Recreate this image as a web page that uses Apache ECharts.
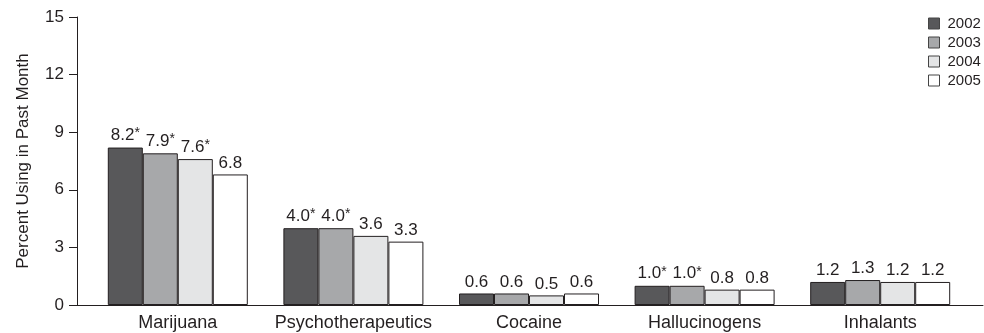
<!DOCTYPE html>
<html>
<head>
<meta charset="utf-8">
<script src="https://cdn.jsdelivr.net/npm/echarts@6/dist/echarts.min.js"></script>
<style>
html,body{margin:0;padding:0;background:#fff;}
#chart{width:984px;height:333px;}
</style>
</head>
<body>
<div id="chart"></div>
<script>
const categories = ['Marijuana', 'Psychotherapeutics', 'Cocaine', 'Hallucinogens', 'Inhalants'];
const years = ['2002', '2003', '2004', '2005'];
const v2002 = [8.2, 4.0, 0.6, 1.0, 1.2];
const v2003 = [7.9, 4.0, 0.6, 1.0, 1.3];
const v2004 = [7.6, 3.6, 0.5, 0.8, 1.2];
const v2005 = [6.8, 3.3, 0.6, 0.8, 1.2];
const sig2002 = [true, true, false, true, false];
const sig2003 = [true, true, false, true, false];
const sig2004 = [true, false, false, false, false];
const sig2005 = [false, false, false, false, false];
const yTicks = [0, 3, 6, 9, 12, 15];

const values = [v2002, v2003, v2004, v2005];
const sigs = [sig2002, sig2003, sig2004, sig2005];
const colors = ['#58585a', '#a7a8aa', '#e4e5e6', '#ffffff'];
const FONT = '"Liberation Sans", Arial, Helvetica, sans-serif';
const TXT = '#231f20';

const chart = echarts.init(document.getElementById('chart'), null, {renderer: 'canvas'});
chart.setOption({
  animation: false,
  backgroundColor: '#fff',
  textStyle: {fontFamily: FONT, color: TXT},
  legend: {
    orient: 'vertical',
    left: 928,
    top: 16,
    padding: 0,
    itemWidth: 11,
    itemHeight: 11,
    itemGap: 4,
    icon: 'rect',
    textStyle: {fontSize: 15, lineHeight: 15, color: TXT, fontFamily: FONT, padding: [0, 0, 0, 3]},
    data: years.map((y, i) => ({name: y, itemStyle: {borderColor: '#444', borderWidth: 1}}))
  },
  grid: [
    {left: 90, right: 16, top: 17, bottom: 28, containLabel: false},
    {left: 77, right: 1, top: 17, bottom: 28, containLabel: false}
  ],
  xAxis: [
    {
      type: 'category',
      data: categories,
      gridIndex: 0,
      axisLine: {show: false},
      axisTick: {show: false},
      axisLabel: {fontSize: 18, color: TXT, margin: 9, interval: 0, hideOverlap: false, fontFamily: FONT}
    },
    {
      type: 'value', gridIndex: 1, min: 0, max: 1,
      axisLine: {show: true, lineStyle: {color: TXT, width: 1}},
      axisTick: {show: false}, axisLabel: {show: false}, splitLine: {show: false}
    }
  ],
  yAxis: [
    {
      type: 'value',
      gridIndex: 0,
      min: yTicks[0],
      max: yTicks[yTicks.length - 1],
      interval: 3,
      offset: 13,
      name: 'Percent Using in Past Month',
      nameLocation: 'middle',
      nameGap: 45,
      nameTextStyle: {fontSize: 17, color: TXT, fontFamily: FONT},
      axisLine: {show: true, lineStyle: {color: TXT, width: 1}},
      axisTick: {show: true, length: 8, lineStyle: {color: TXT}},
      axisLabel: {fontSize: 17, color: TXT, margin: 13, fontFamily: FONT},
      splitLine: {show: false}
    },
    {type: 'value', gridIndex: 1, show: false, min: 0, max: 1}
  ],
  series: years.map((y, i) => ({
    name: y,
    type: 'bar',
    xAxisIndex: 0,
    yAxisIndex: 0,
    barWidth: 35,
    barGap: '0%',
    data: values[i],
    itemStyle: {color: colors[i], borderColor: TXT, borderWidth: 1},
    label: {
      show: true,
      position: 'top',
      distance: 3,
      fontFamily: FONT,
      formatter: p => sigs[i][p.dataIndex]
        ? '{v|' + p.value.toFixed(1) + '}{s|*}'
        : '{v|' + p.value.toFixed(1) + '}',
      rich: {
        v: {fontSize: 17, color: TXT, fontFamily: FONT},
        s: {fontSize: 14, color: TXT, fontFamily: FONT, padding: [0, 0, 4, 0]}
      }
    }
  }))
});
</script>
</body>
</html>
